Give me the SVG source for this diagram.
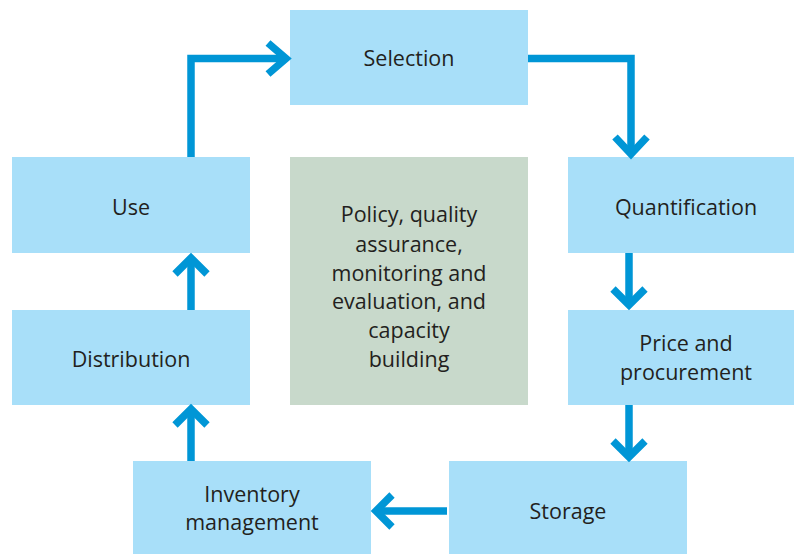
<svg xmlns="http://www.w3.org/2000/svg" width="794" height="554" viewBox="0 0 794 554">
<defs>
<style>
.box{fill:#a8dff9}
.core{fill:#c8d9cb}
.t{font-family:"Open Sans","Noto Sans",sans-serif;font-size:21.5px;fill:#231f20;text-anchor:middle}
.ln{fill:none;stroke:#0096d6;stroke-width:7.5}
.hd{fill:none;stroke:#0096d6;stroke-width:7.5;stroke-linecap:butt;stroke-linejoin:miter}
</style>
</defs>
<rect width="794" height="554" fill="#ffffff"/>
<g id="selection"><rect class="box" x="290" y="10" width="238" height="95"/><text class="t" x="409" y="66">Selection</text></g>
<g id="use"><rect class="box" x="12" y="157" width="238" height="96"/><text class="t" x="131" y="215">Use</text></g>
<g id="policy"><rect class="core" x="290" y="157" width="238" height="248"/>
<text class="t" x="409" y="222">Policy, quality</text>
<text class="t" x="409" y="252">assurance,</text>
<text class="t" x="409" y="281">monitoring and</text>
<text class="t" x="409" y="309">evaluation, and</text>
<text class="t" x="409" y="338">capacity</text>
<text class="t" x="409" y="367">building</text></g>
<g id="quantification"><rect class="box" x="568" y="157" width="226" height="96"/><text class="t" x="686" y="215">Quantification</text></g>
<g id="price"><rect class="box" x="568" y="310" width="226" height="95"/><text class="t" x="686" y="351">Price and</text><text class="t" x="686" y="380">procurement</text></g>
<g id="distribution"><rect class="box" x="12" y="310" width="238" height="95"/><text class="t" x="131" y="367">Distribution</text></g>
<g id="inventory"><rect class="box" x="133" y="461" width="238" height="93"/><text class="t" x="252" y="502">Inventory</text><text class="t" x="252" y="530">management</text></g>
<g id="storage"><rect class="box" x="449" y="461" width="238" height="93"/><text class="t" x="568" y="519">Storage</text></g>
<g id="connectors">
<polyline class="ln" points="191,157 191,58.5 286,58.5"/>
<polyline class="hd" points="268,43 286,58.5 268,74"/>
<polyline class="ln" points="528,58.5 631,58.5 631,154"/>
<polyline class="hd" points="615,137 631,154 647,137"/>
<line class="ln" x1="629" y1="253" x2="629" y2="305"/>
<polyline class="hd" points="613,289 629,305 645,289"/>
<line class="ln" x1="629" y1="405" x2="629" y2="457"/>
<polyline class="hd" points="613,441 629,457 645,441"/>
<line class="ln" x1="447" y1="511" x2="376" y2="511"/>
<polyline class="hd" points="392,495 376,511 392,527"/>
<line class="ln" x1="191" y1="310" x2="191" y2="258"/>
<polyline class="hd" points="175,274 191,258 207,274"/>
<line class="ln" x1="191" y1="461" x2="191" y2="409"/>
<polyline class="hd" points="175,425 191,409 207,425"/>
</g>
</svg>
